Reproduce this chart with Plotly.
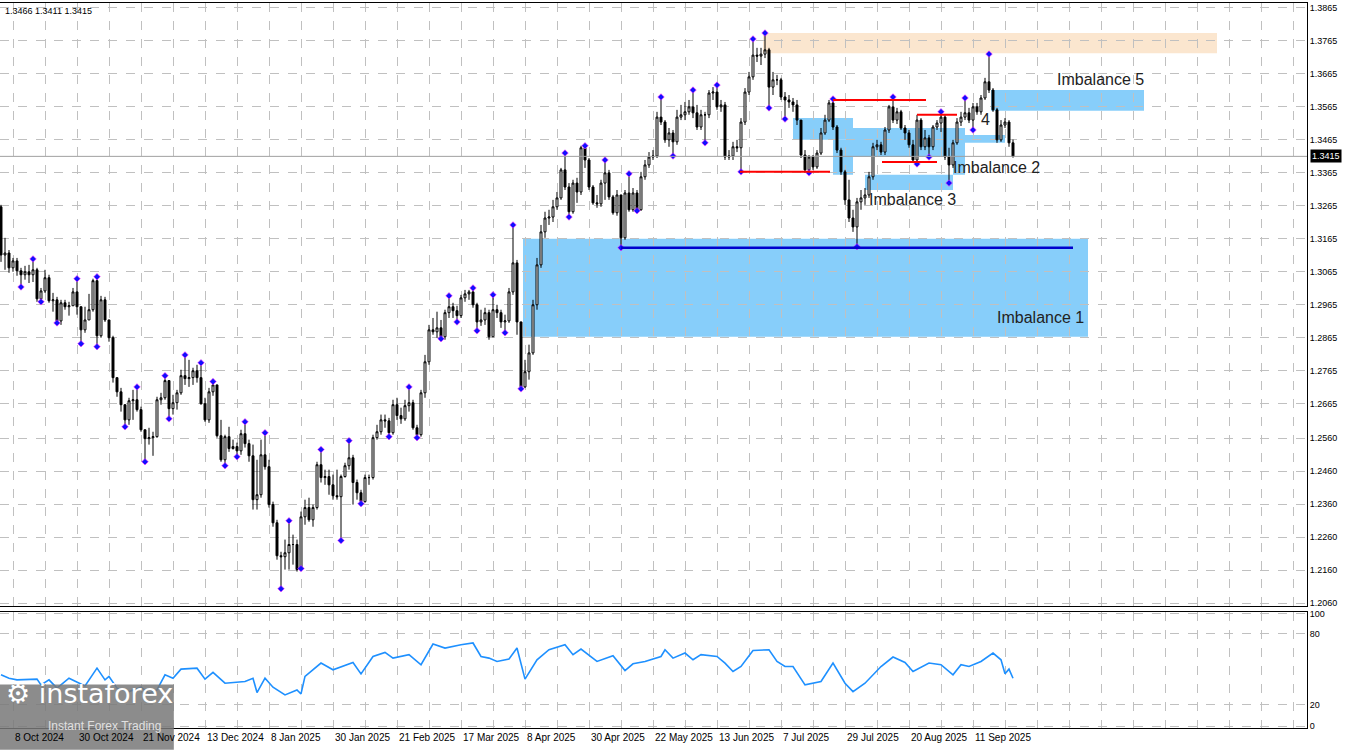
import plotly.graph_objects as go
from plotly.subplots import make_subplots

# daily bars, GBPUSD-like
close = [1.3116,1.3122,1.3077,1.3098,1.3068,1.3056,1.3065,1.3056,1.3071,1.2983,
         1.3007,1.3047,1.2977,1.2980,1.2916,1.2971,1.2959,1.2962,1.3004,1.2959,
         1.2889,1.2919,1.2950,1.3038,1.2871,1.2980,1.2919,1.2865,1.2744,1.2701,
         1.2662,1.2616,1.2674,1.2677,1.2647,1.2586,1.2559,1.2562,1.2565,1.2677,
         1.2683,1.2735,1.2650,1.2668,1.2698,1.2750,1.2741,1.2744,1.2765,1.2744,
         1.2665,1.2616,1.2701,1.2722,1.2568,1.2495,1.2565,1.2529,1.2535,1.2522,
         1.2574,1.2544,1.2507,1.2374,1.2389,1.2510,1.2474,1.2359,1.2304,1.2204,
         1.2201,1.2213,1.2238,1.2238,1.2162,1.2322,1.2350,1.2313,1.2350,1.2480,
         1.2441,1.2444,1.2419,1.2386,1.2383,1.2444,1.2477,1.2501,1.2426,1.2395,
         1.2368,1.2441,1.2441,1.2562,1.2580,1.2616,1.2613,1.2577,1.2662,1.2629,
         1.2619,1.2659,1.2668,1.2592,1.2571,1.2698,1.2792,1.2889,1.2883,1.2895,
         1.2868,1.2941,1.2959,1.2947,1.2932,1.2986,1.2998,1.3004,1.2965,1.2913,
         1.2919,1.2941,1.2868,1.2950,1.2941,1.2913,1.2916,1.3004,1.3092,1.2913,
         1.2716,1.2762,1.2819,1.2965,1.3086,1.3186,1.3228,1.3231,1.3262,1.3289,
         1.3374,1.3322,1.3247,1.3334,1.3307,1.3441,1.3404,1.3322,1.3274,1.3271,
         1.3334,1.3365,1.3292,1.3244,1.3298,1.3168,1.3304,1.3253,1.3304,1.3253,
         1.3353,1.3389,1.3413,1.3416,1.3534,1.3519,1.3465,1.3486,1.3459,1.3534,
         1.3541,1.3550,1.3565,1.3547,1.3504,1.3541,1.3541,1.3607,1.3610,1.3565,
         1.3571,1.3413,1.3416,1.3444,1.3441,1.3519,1.3610,1.3656,1.3722,1.3719,
         1.3725,1.3738,1.3625,1.3647,1.3647,1.3595,1.3586,1.3580,1.3571,1.3525,
         1.3419,1.3374,1.3413,1.3383,1.3425,1.3486,1.3525,1.3577,1.3504,1.3434,
         1.3368,1.3283,1.3228,1.3201,1.3277,1.3289,1.3298,1.3353,1.3444,1.3450,
         1.3428,1.3495,1.3565,1.3525,1.3550,1.3501,1.3486,1.3450,1.3404,1.3525,
         1.3444,1.3471,1.3444,1.3504,1.3516,1.3534,1.3413,1.3389,1.3456,1.3519,
         1.3534,1.3547,1.3525,1.3565,1.3550,1.3592,1.3641,1.3616,1.3556,1.3465,
         1.3510,1.3519,1.3456,1.3415]
high = [1.3268,1.3168,1.3131,1.3107,1.3107,1.3077,1.3083,1.3086,1.3104,1.3077,
        1.3016,1.3071,1.3056,1.3001,1.2989,1.2980,1.2980,1.2974,1.3016,1.3044,
        1.2959,1.2959,1.2998,1.3044,1.3050,1.2992,1.2989,1.2919,1.2871,1.2744,
        1.2713,1.2662,1.2683,1.2707,1.2716,1.2656,1.2586,1.2592,1.2580,1.2686,
        1.2698,1.2750,1.2732,1.2692,1.2707,1.2768,1.2813,1.2798,1.2774,1.2783,
        1.2789,1.2683,1.2713,1.2732,1.2719,1.2616,1.2571,1.2595,1.2556,1.2547,
        1.2586,1.2610,1.2556,1.2541,1.2495,1.2556,1.2577,1.2495,1.2368,1.2313,
        1.2216,1.2253,1.2310,1.2268,1.2253,1.2338,1.2374,1.2380,1.2359,1.2489,
        1.2526,1.2465,1.2465,1.2450,1.2465,1.2450,1.2486,1.2553,1.2510,1.2435,
        1.2404,1.2450,1.2450,1.2571,1.2601,1.2632,1.2632,1.2622,1.2677,1.2683,
        1.2653,1.2677,1.2716,1.2677,1.2601,1.2707,1.2813,1.2904,1.2925,1.2944,
        1.2919,1.2950,1.2992,1.2971,1.2962,1.2995,1.3010,1.3010,1.3016,1.2971,
        1.2950,1.2956,1.2950,1.2995,1.2965,1.2950,1.2935,1.3016,1.3207,1.3101,
        1.2889,1.2798,1.2844,1.2980,1.3107,1.3207,1.3247,1.3253,1.3283,1.3307,
        1.3380,1.3425,1.3334,1.3344,1.3350,1.3447,1.3447,1.3410,1.3328,1.3298,
        1.3344,1.3404,1.3374,1.3298,1.3313,1.3298,1.3313,1.3362,1.3319,1.3313,
        1.3368,1.3404,1.3428,1.3434,1.3550,1.3595,1.3525,1.3501,1.3495,1.3556,
        1.3571,1.3580,1.3586,1.3616,1.3571,1.3556,1.3550,1.3616,1.3625,1.3631,
        1.3586,1.3580,1.3434,1.3459,1.3465,1.3531,1.3622,1.3671,1.3771,1.3744,
        1.3744,1.3789,1.3744,1.3671,1.3662,1.3653,1.3610,1.3601,1.3592,1.3586,
        1.3525,1.3434,1.3419,1.3419,1.3434,1.3501,1.3541,1.3586,1.3589,1.3510,
        1.3441,1.3374,1.3344,1.3253,1.3289,1.3313,1.3319,1.3368,1.3456,1.3465,
        1.3459,1.3504,1.3571,1.3595,1.3562,1.3556,1.3510,1.3495,1.3465,1.3541,
        1.3531,1.3495,1.3480,1.3510,1.3525,1.3550,1.3541,1.3441,1.3465,1.3531,
        1.3550,1.3592,1.3562,1.3577,1.3577,1.3601,1.3653,1.3725,1.3622,1.3562,
        1.3525,1.3531,1.3525,1.3466]
low = [1.3095,1.3071,1.3062,1.3065,1.3053,1.3019,1.3041,1.3031,1.3034,1.2974,
       1.2974,1.3001,1.2971,1.2944,1.2910,1.2904,1.2950,1.2932,1.2962,1.2935,
       1.2847,1.2880,1.2919,1.2944,1.2838,1.2865,1.2913,1.2853,1.2729,1.2686,
       1.2641,1.2595,1.2601,1.2616,1.2641,1.2580,1.2489,1.2541,1.2507,1.2562,
       1.2662,1.2677,1.2619,1.2632,1.2647,1.2692,1.2722,1.2716,1.2722,1.2729,
       1.2662,1.2610,1.2607,1.2689,1.2562,1.2489,1.2477,1.2519,1.2526,1.2504,
       1.2510,1.2532,1.2489,1.2344,1.2344,1.2380,1.2465,1.2350,1.2292,1.2192,
       1.2104,1.2162,1.2162,1.2177,1.2156,1.2165,1.2298,1.2307,1.2292,1.2344,
       1.2426,1.2419,1.2389,1.2374,1.2374,1.2250,1.2441,1.2465,1.2359,1.2374,
       1.2362,1.2365,1.2419,1.2435,1.2556,1.2571,1.2592,1.2565,1.2571,1.2616,
       1.2604,1.2613,1.2641,1.2586,1.2562,1.2565,1.2683,1.2783,1.2874,1.2865,
       1.2862,1.2859,1.2925,1.2925,1.2913,1.2925,1.2974,1.2980,1.2956,1.2886,
       1.2901,1.2904,1.2859,1.2868,1.2925,1.2895,1.2880,1.2910,1.2995,1.2874,
       1.2710,1.2713,1.2738,1.2813,1.2950,1.3077,1.3168,1.3207,1.3216,1.3253,
       1.3283,1.3313,1.3231,1.3241,1.3274,1.3298,1.3380,1.3313,1.3268,1.3259,
       1.3262,1.3283,1.3283,1.3238,1.3235,1.3138,1.3162,1.3247,1.3247,1.3250,
       1.3250,1.3344,1.3380,1.3404,1.3410,1.3510,1.3456,1.3444,1.3416,1.3450,
       1.3525,1.3525,1.3541,1.3531,1.3495,1.3495,1.3456,1.3531,1.3586,1.3556,
       1.3550,1.3404,1.3404,1.3404,1.3428,1.3368,1.3510,1.3601,1.3647,1.3701,
       1.3692,1.3713,1.3562,1.3601,1.3631,1.3586,1.3528,1.3562,1.3550,1.3510,
       1.3410,1.3365,1.3365,1.3374,1.3377,1.3419,1.3480,1.3519,1.3495,1.3425,
       1.3359,1.3268,1.3216,1.3186,1.3141,1.3253,1.3268,1.3289,1.3344,1.3434,
       1.3419,1.3419,1.3486,1.3516,1.3513,1.3495,1.3465,1.3441,1.3398,1.3392,
       1.3434,1.3434,1.3413,1.3434,1.3495,1.3489,1.3404,1.3334,1.3380,1.3450,
       1.3507,1.3525,1.3516,1.3495,1.3541,1.3541,1.3586,1.3607,1.3550,1.3456,
       1.3459,1.3501,1.3444,1.3411]
first_open = 1.3262

# fractal markers (bar indices)
fractal_up = [8, 19, 24, 34, 41, 46, 50, 53, 61, 66, 72, 80, 87, 102, 112, 118, 123,
              128, 141, 146, 151, 157, 165, 173, 179, 188, 191, 208, 223, 235, 241, 247]
fractal_dn = [5, 10, 14, 20, 24, 31, 36, 42, 56, 59, 70, 75, 85, 90, 97, 104, 110, 114,
              119, 126, 130, 142, 155, 159, 168, 176, 185, 192, 196, 202, 214, 229, 232,
              237, 243]

# oscillator in lower window
osc_bar = [0, 2, 4, 9, 10, 12, 14, 17, 21, 24, 26, 27, 29, 32, 35, 37, 39, 41, 43, 45,
           49, 51, 53, 56, 61, 63, 64, 66, 68, 71, 74, 75, 76, 80, 83, 88, 90, 93, 96, 98,
           102, 105, 108, 111, 115, 118, 120, 122, 124, 127, 129, 131, 134, 137, 141, 143,
           145, 149, 153, 156, 158, 161, 165, 166, 168, 171, 173, 175, 179, 181, 183, 185,
           188, 192, 194, 196, 198, 201, 205, 208, 211, 213, 216, 220, 223, 226, 228, 232,
           235, 238, 240, 242, 245, 248, 250, 251, 252, 253]
osc_val = [45.5, 42.6, 41.2, 41.8, 37.0, 41.2, 34.2, 42.6, 36.1, 51.1, 41.2, 44.1, 34.2,
           31.3, 35.0, 29.9, 32.7, 45.5, 42.6, 50.3, 51.1, 41.8, 47.5, 38.4, 39.8, 42.6,
           30.5, 42.6, 35.0, 28.5, 32.7, 29.3, 44.1, 55.4, 49.7, 55.9, 46.3, 61.0, 64.4,
           59.6, 62.5, 54.0, 71.5, 68.1, 70.9, 72.4, 61.0, 59.6, 56.8, 58.8, 68.1, 41.8,
           58.2, 66.7, 70.9, 62.5, 67.3, 56.8, 61.6, 49.1, 54.8, 56.8, 61.0, 66.7, 59.6,
           63.9, 58.2, 62.5, 61.0, 55.4, 48.3, 52.5, 66.1, 66.7, 56.8, 52.5, 52.5, 37.0,
           39.8, 55.4, 38.4, 31.3, 38.4, 52.5, 60.5, 55.9, 48.3, 55.4, 54.0, 45.5, 54.0,
           52.5, 56.8, 63.9, 58.2, 46.3, 50.3, 42.6]

price_ticks = [1.3865, 1.3765, 1.3665, 1.3565, 1.3465, 1.3365, 1.3265, 1.3165, 1.3065,
               1.2965, 1.2865, 1.2765, 1.2665, 1.2560, 1.2460, 1.2360, 1.2260, 1.2160, 1.2060]
date_idx = [3, 19, 35, 51, 67, 83, 99, 115, 131, 147, 163, 179, 195, 211, 227, 243]
date_labels = ["8 Oct 2024", "30 Oct 2024", "21 Nov 2024", "13 Dec 2024", "8 Jan 2025",
               "30 Jan 2025", "21 Feb 2025", "17 Mar 2025", "8 Apr 2025", "30 Apr 2025",
               "22 May 2025", "13 Jun 2025", "7 Jul 2025", "29 Jul 2025", "20 Aug 2025",
               "11 Sep 2025"]

# zones: (x0, x1, y0, y1)
blue_zones = [(130.5, 271.75, 1.2868, 1.3165),   # imbalance 1
              (247.5, 285.75, 1.3553, 1.3616),   # imbalance 5
              (198, 213, 1.3465, 1.3531),
              (208, 213, 1.3359, 1.3465),
              (213, 238, 1.3413, 1.3501),
              (238, 241, 1.3359, 1.3501),        # imbalance 2
              (241, 251, 1.3456, 1.3480),        # 4
              (216, 238, 1.3313, 1.3359)]        # imbalance 3
peach_zone = (190.5, 304, 1.3728, 1.3789)
red_levels = [(184.75, 207.25, 1.3368), (208, 231.25, 1.3586),
              (220.25, 234, 1.3398), (229, 239, 1.3541)]
blue_level = (155, 268, 1.3138)
zone_text = [("Imbalance 1", 259.75, 1.2927), ("Imbalance 5", 274.75, 1.3647),
             ("Imbalance 2", 248.75, 1.3380), ("Imbalance 3", 227.75, 1.3283),
             ("4", 246, 1.3528)]

n = len(close)
bars = list(range(n))
opens = [first_open] + close[:-1]
FONT = "Liberation Sans, Arial"

fig = make_subplots(rows=2, cols=1, shared_xaxes=True, vertical_spacing=0.008,
                    row_heights=[0.832, 0.16])

fig.add_trace(go.Candlestick(
    x=bars, open=opens, high=high, low=low, close=close,
    increasing=dict(fillcolor="white", line=dict(color="black", width=1)),
    decreasing=dict(fillcolor="black", line=dict(color="black", width=1)),
    whiskerwidth=0, showlegend=False, hoverinfo="skip"), row=1, col=1)

dot = dict(symbol="diamond", size=5, color="#1010FF", line=dict(color="#FF30FF", width=0.6))
fig.add_trace(go.Scatter(x=fractal_up, y=[high[i] for i in fractal_up], mode="markers",
                         marker=dot, showlegend=False, hoverinfo="skip"), row=1, col=1)
fig.add_trace(go.Scatter(x=fractal_dn, y=[low[i] for i in fractal_dn], mode="markers",
                         marker=dot, showlegend=False, hoverinfo="skip"), row=1, col=1)

fig.add_trace(go.Scatter(x=osc_bar, y=osc_val, mode="lines",
                         line=dict(color="#1E90FF", width=1.6),
                         showlegend=False, hoverinfo="skip"), row=2, col=1)

for x0, x1, y0, y1 in blue_zones:
    fig.add_shape(type="rect", x0=x0, x1=x1, y0=y0, y1=y1, xref="x", yref="y",
                  fillcolor="#87CEFA", line_width=0, layer="below")
fig.add_shape(type="rect", x0=peach_zone[0], x1=peach_zone[1], y0=peach_zone[2],
              y1=peach_zone[3], xref="x", yref="y", fillcolor="#FBE6CF",
              line_width=0, layer="below")
for x0, x1, y in red_levels:
    fig.add_shape(type="line", x0=x0, x1=x1, y0=y, y1=y, xref="x", yref="y",
                  line=dict(color="#FF0000", width=2))
fig.add_shape(type="line", x0=blue_level[0], x1=blue_level[1], y0=blue_level[2],
              y1=blue_level[2], xref="x", yref="y", line=dict(color="#0000CD", width=2.5))
# current price line
fig.add_shape(type="line", x0=0, x1=1, xref="x domain", y0=close[-1], y1=close[-1],
              yref="y", line=dict(color="#A0A0A0", width=1))

for txt, x, y in zone_text:
    fig.add_annotation(x=x, y=y, xref="x", yref="y", text=txt, showarrow=False,
                       font=dict(family=FONT, size=16, color="#222222"))

fig.add_annotation(x=1, y=close[-1], xref="paper", yref="y", xanchor="left",
                   text="%.4f" % close[-1], showarrow=False, bgcolor="black",
                   font=dict(family=FONT, size=9, color="white"),
                   borderpad=1, xshift=3)
fig.add_annotation(x=0.002, y=0.998, xref="paper", yref="paper", xanchor="left",
                   yanchor="top", showarrow=False,
                   text="%.4f %.4f %.4f" % (high[-1], low[-1], close[-1]),
                   font=dict(family=FONT, size=9, color="black"))

for i, lab in zip(date_idx, date_labels):
    fig.add_annotation(x=i, y=0, xref="x2", yref="paper", xanchor="left", yanchor="top",
                       text=lab, showarrow=False, yshift=-2,
                       font=dict(family=FONT, size=10, color="black"))

# logo
fig.add_shape(type="rect", x0=0, x1=0.133, y0=-0.03, y1=0.06, xref="paper",
              yref="paper", fillcolor="rgba(120,120,120,0.85)", line_width=0)
fig.add_annotation(x=0.003, y=0.047, xref="paper", yref="paper", xanchor="left",
                   yanchor="middle", showarrow=False, text="⚙ instaforex",
                   font=dict(family="DejaVu Sans", size=27, color="white"))
fig.add_annotation(x=0.035, y=0.003, xref="paper", yref="paper", xanchor="left",
                   yanchor="middle", showarrow=False, text="Instant Forex Trading",
                   font=dict(family=FONT, size=12, color="#E0E0E0"))

grid = dict(showgrid=True, gridcolor="#C0C0C0", griddash="dash", gridwidth=1,
            showline=True, linecolor="black", linewidth=1, mirror=True, zeroline=False)
fig.update_xaxes(range=[-0.25, 326.5], tickvals=list(range(3, 327, 8)),
                 showticklabels=False, ticks="", rangeslider_visible=False, **grid)
fig.update_yaxes(side="right", range=[1.2051, 1.3880], tickvals=price_ticks,
                 ticktext=["%.4f" % v for v in price_ticks], ticks="",
                 tickfont=dict(family=FONT, size=9, color="black"),
                 row=1, col=1, **grid)
fig.update_yaxes(side="right", range=[0.5, 98.6], tickvals=[2, 20, 80, 97],
                 ticktext=["0", "20", "80", "100"], ticks="",
                 tickfont=dict(family=FONT, size=9, color="black"),
                 row=2, col=1, **grid)

fig.update_layout(width=1350, height=750, margin=dict(l=0, r=43, t=3, b=22),
                  paper_bgcolor="white", plot_bgcolor="white",
                  xaxis_rangeslider_visible=False)

fig.write_html("out.html", config={"displayModeBar": False},
               post_script="document.body.style.margin='0';")
